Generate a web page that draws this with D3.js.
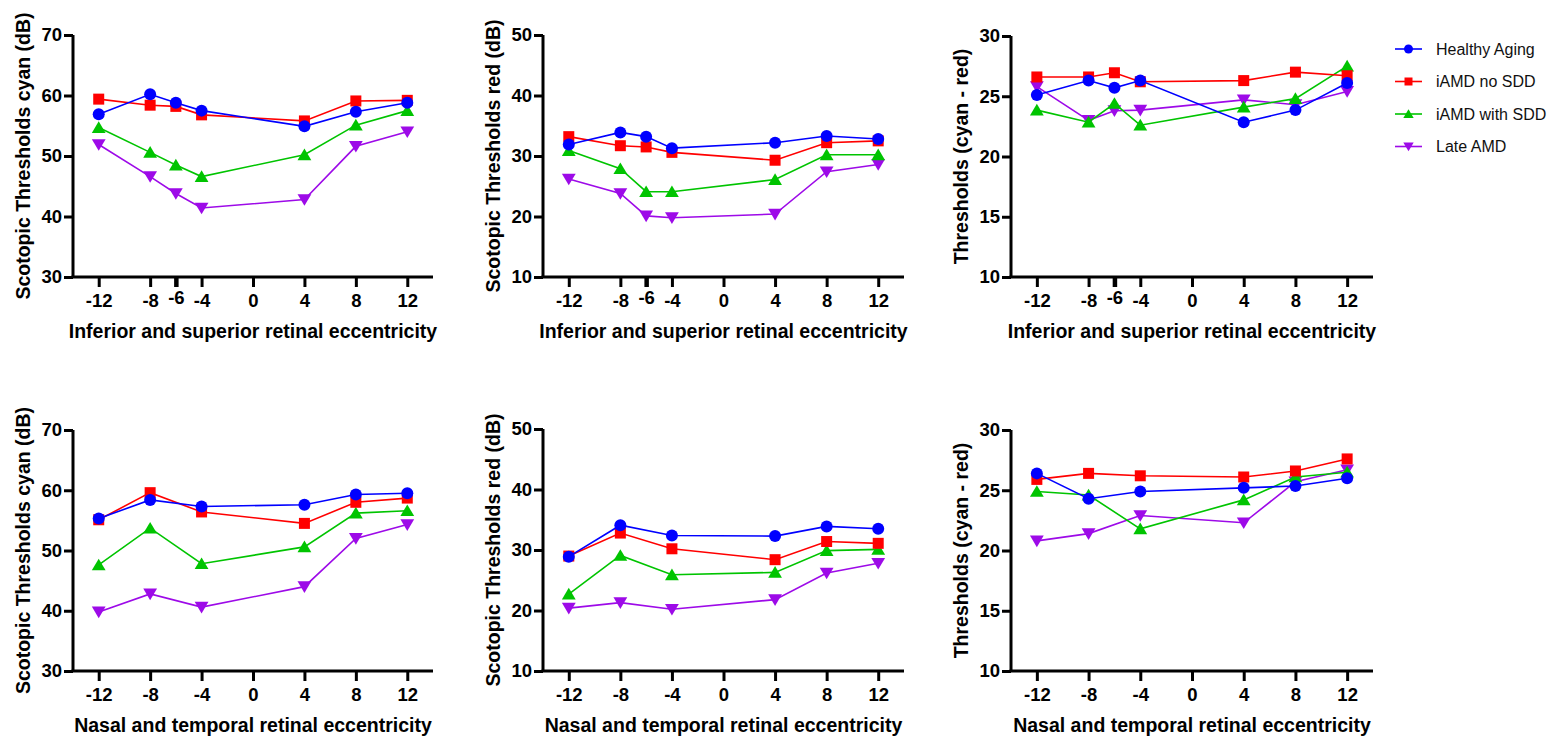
<!DOCTYPE html>
<html>
<head>
<meta charset="utf-8">
<script src="https://cdn.jsdelivr.net/npm/d3@7"></script>
<style>
  html, body { margin: 0; padding: 0; background: #fff; }
  svg { display: block; font-family: "Liberation Sans", Arial, Helvetica, sans-serif; }
</style>
</head>
<body>
<svg id="fig" width="1551" height="737"></svg>
<script>
// Group names (legend order)
const groups = ["Healthy Aging", "iAMD no SDD", "iAMD with SDD", "Late AMD"];

// Eccentricities tested along each meridian
const eccVertical = [-12, -8, -6, -4, 4, 8, 12];
const eccHorizontal = [-12, -8, -4, 4, 8, 12];
const ticksVertical = [-12, -8, -6, -4, 0, 4, 8, 12];
const ticksHorizontal = [-12, -8, -4, 0, 4, 8, 12];

// Inferior/superior meridian, one row per group
const cyanVertical = [
  [56.9, 60.2, 58.8, 57.5, 54.9, 57.3, 58.8],
  [59.4, 58.4, 58.2, 56.8, 55.8, 59.1, 59.2],
  [54.7, 50.6, 48.5, 46.6, 50.2, 55.1, 57.5],
  [51.9, 46.6, 43.8, 41.4, 42.8, 51.6, 54.0]
];
const redVertical = [
  [31.9, 33.9, 33.2, 31.3, 32.2, 33.3, 32.8],
  [33.2, 31.7, 31.5, 30.6, 29.3, 32.2, 32.5],
  [30.9, 27.9, 24.1, 24.1, 26.1, 30.2, 30.2],
  [26.2, 23.8, 20.1, 19.8, 20.4, 27.4, 28.6]
];
const diffVertical = [
  [25.1, 26.3, 25.7, 26.3, 22.85, 23.85, 26.1],
  [26.6, 26.6, 26.95, 26.2, 26.3, 27.0, 26.7],
  [23.85, 22.85, 24.4, 22.6, 24.1, 24.8, 27.5],
  [25.8, 23.0, 23.8, 23.85, 24.7, 24.3, 25.4]
];

// Nasal/temporal meridian, one row per group
const cyanHorizontal = [
  [55.3, 58.4, 57.3, 57.6, 59.3, 59.5],
  [55.1, 59.6, 56.4, 54.5, 58.0, 58.7],
  [47.6, 53.7, 47.8, 50.6, 56.2, 56.6],
  [39.8, 42.8, 40.6, 44.0, 52.0, 54.3]
];
const redHorizontal = [
  [28.9, 34.1, 32.4, 32.3, 33.9, 33.5],
  [29.0, 32.8, 30.2, 28.4, 31.4, 31.1],
  [22.7, 29.1, 25.9, 26.3, 29.9, 30.1],
  [20.4, 21.3, 20.2, 21.8, 26.2, 27.8]
];
const diffHorizontal = [
  [26.4, 24.3, 24.9, 25.2, 25.35, 26.0],
  [25.9, 26.4, 26.2, 26.1, 26.6, 27.6],
  [24.9, 24.6, 21.8, 24.2, 26.1, 26.5],
  [20.8, 21.4, 22.9, 22.3, 25.7, 26.7]
];

// Axis tick values and titles
const yTicksCyan = [30, 40, 50, 60, 70];
const yTicksRed = [10, 20, 30, 40, 50];
const yTicksDiff = [10, 15, 20, 25, 30];
const titleCyan = "Scotopic Thresholds cyan (dB)";
const titleRed = "Scotopic Thresholds red (dB)";
const titleDiff = "Thresholds (cyan - red)";
const titleVertical = "Inferior and superior retinal eccentricity";
const titleHorizontal = "Nasal and temporal retinal eccentricity";

// Styling
const colors = ["#0000ff", "#ff0000", "#00c400", "#9d0ae8"];
const shapes = ["circle", "square", "up", "down"];

// plain hyphen-minus for negative tick labels
const tickLabel = d => String(d);

const svg = d3.select("#fig");
svg.append("rect").attr("width", 1551).attr("height", 737).attr("fill", "#fff");

function markerPath(shape, s) {
  if (shape === "circle") {
    return d3.symbol(d3.symbolCircle, Math.PI * s * s)();
  }
  if (shape === "square") {
    return `M${-s},${-s}H${s}V${s}H${-s}Z`;
  }
  const w = s * 1.15, h = s * 1.05;
  if (shape === "up") return `M0,${-h}L${w},${h * 0.85}L${-w},${h * 0.85}Z`;
  return `M0,${h}L${w},${-h * 0.85}L${-w},${-h * 0.85}Z`;
}

const panels = [
  { rows: cyanVertical, xs: eccVertical, xt: ticksVertical, yd: [30, 70], yt: yTicksCyan, ytitle: titleCyan, xtitle: titleVertical, x0: 73, x1: 433, y0: 35, y1: 277, tx: 30 },
  { rows: redVertical, xs: eccVertical, xt: ticksVertical, yd: [10, 50], yt: yTicksRed, ytitle: titleRed, xtitle: titleVertical, x0: 543, x1: 904, y0: 35, y1: 277, tx: 500 },
  { rows: diffVertical, xs: eccVertical, xt: ticksVertical, yd: [10, 30], yt: yTicksDiff, ytitle: titleDiff, xtitle: titleVertical, x0: 1011, x1: 1373, y0: 36, y1: 277, tx: 968 },
  { rows: cyanHorizontal, xs: eccHorizontal, xt: ticksHorizontal, yd: [30, 70], yt: yTicksCyan, ytitle: titleCyan, xtitle: titleHorizontal, x0: 73, x1: 433, y0: 430, y1: 671, tx: 30 },
  { rows: redHorizontal, xs: eccHorizontal, xt: ticksHorizontal, yd: [10, 50], yt: yTicksRed, ytitle: titleRed, xtitle: titleHorizontal, x0: 543, x1: 904, y0: 429, y1: 671, tx: 500 },
  { rows: diffHorizontal, xs: eccHorizontal, xt: ticksHorizontal, yd: [10, 30], yt: yTicksDiff, ytitle: titleDiff, xtitle: titleHorizontal, x0: 1011, x1: 1373, y0: 430, y1: 671, tx: 968 }
];

panels.forEach(p => {
  const g = svg.append("g");
  const x = d3.scaleLinear().domain([-14, 14]).range([p.x0, p.x1]);
  const y = d3.scaleLinear().domain(p.yd).range([p.y1, p.y0]);

  // y axis
  const ya = g.append("g").attr("transform", `translate(${p.x0},0)`)
    .call(d3.axisLeft(y).tickValues(p.yt).tickSize(9).tickPadding(2).tickFormat(tickLabel));
  ya.select(".domain").attr("stroke", "#000").attr("stroke-width", 3).attr("d", `M0,${p.y0}V${p.y1}`);
  ya.selectAll(".tick line").attr("stroke", "#000").attr("stroke-width", 3);
  ya.selectAll(".tick text").attr("fill", "#000").attr("font-size", 18.5).attr("font-weight", "bold")
    .attr("font-family", "Liberation Sans, Arial, sans-serif");

  // x axis; the -6 position has a heavier tick and a slightly raised label
  const xa = g.append("g").attr("transform", `translate(0,${p.y1})`)
    .call(d3.axisBottom(x).tickValues(p.xt).tickSize(10).tickPadding(7).tickFormat(tickLabel));
  xa.select(".domain").attr("stroke", "#000").attr("stroke-width", 3).attr("d", `M${p.x0 - 1.5},0H${p.x1}`);
  xa.selectAll(".tick line").attr("stroke", "#000").attr("stroke-width", d => d === -6 ? 4.5 : 3);
  xa.selectAll(".tick text").attr("fill", "#000").attr("font-size", 18.5).attr("font-weight", "bold")
    .attr("font-family", "Liberation Sans, Arial, sans-serif")
    .attr("dy", d => d === -6 ? "0.55em" : "0.71em");

  // axis titles
  g.append("text")
    .attr("x", x(0)).attr("y", p.y1 + 61)
    .attr("text-anchor", "middle").attr("font-size", 19.5).attr("font-weight", "bold")
    .text(p.xtitle);
  g.append("text")
    .attr("transform", `translate(${p.tx},${(p.y0 + p.y1) / 2}) rotate(-90)`)
    .attr("text-anchor", "middle").attr("font-size", 19.5).attr("font-weight", "bold")
    .text(p.ytitle);

  // series: drawn last-to-first so Healthy Aging sits on top
  const line = d3.line().x(d => x(d[0])).y(d => y(d[1]));
  for (let i = groups.length - 1; i >= 0; i--) {
    const pts = p.xs.map((e, k) => [e, p.rows[i][k]]);
    g.append("path").attr("d", line(pts)).attr("fill", "none")
      .attr("stroke", colors[i]).attr("stroke-width", 1.6);
    g.selectAll(null).data(pts).enter().append("path")
      .attr("transform", d => `translate(${x(d[0])},${y(d[1])})`)
      .attr("d", markerPath(shapes[i], i === 1 ? 5.5 : 6))
      .attr("fill", colors[i]);
  }
});

// legend
const legendY = d3.scalePoint().domain(groups).range([49, 146.5]);
const lg = svg.append("g");
groups.forEach((name, i) => {
  const yy = legendY(name);
  lg.append("line").attr("x1", 1395).attr("x2", 1422).attr("y1", yy).attr("y2", yy)
    .attr("stroke", colors[i]).attr("stroke-width", 1.6);
  lg.append("path").attr("transform", `translate(1408.5,${yy})`)
    .attr("d", markerPath(shapes[i], i === 1 ? 4 : 4.5)).attr("fill", colors[i]);
  lg.append("text").attr("x", 1436).attr("y", yy).attr("dy", "0.35em")
    .attr("font-size", 16).attr("fill", "#111").text(name);
});
</script>
</body>
</html>
